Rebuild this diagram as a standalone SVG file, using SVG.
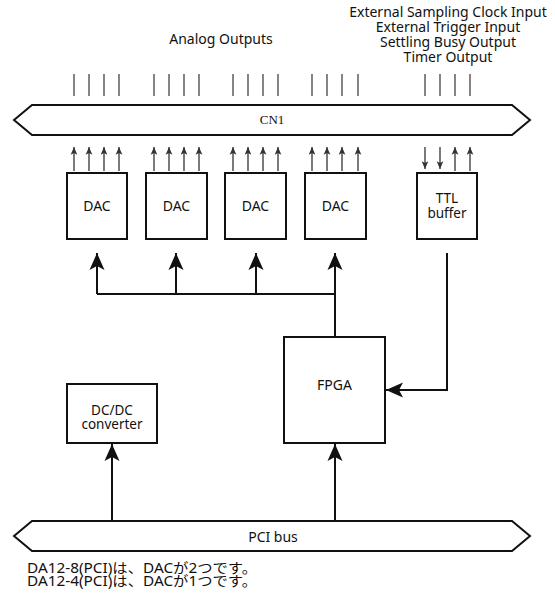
<svg xmlns="http://www.w3.org/2000/svg" width="555" height="594" viewBox="0 0 555 594">
<style>
  text { font-family: "Noto Sans", "Noto Sans CJK JP", sans-serif; font-size: 14px; fill: #111; }
  .c { text-anchor: middle; }
  .two { font-size: 13.5px; }
  .box { fill: #fff; stroke: #111; stroke-width: 2; }
  .bus { fill: #fff; stroke: #111; stroke-width: 2; stroke-linejoin: miter; }
  .tick { stroke: #444; stroke-width: 1.3; fill: none; }
  .sig { stroke: #333; stroke-width: 1.3; fill: none; marker-end: url(#sa); }
  .wire { stroke: #111; stroke-width: 2; fill: none; }
  .arr { stroke: #111; stroke-width: 2; fill: none; marker-end: url(#ba); }
  .serif { font-family: "Liberation Serif", serif; font-size: 13px; }
</style>
<defs>
  <marker id="ba" markerUnits="userSpaceOnUse" orient="auto" markerWidth="20" markerHeight="20" viewBox="-18 -9 20 18" refX="0" refY="0">
    <path d="M0,0 L-17,-7.5 L-13,0 L-17,7.5 Z" fill="#111"/>
  </marker>
  <marker id="sa" markerUnits="userSpaceOnUse" orient="auto" markerWidth="10" markerHeight="10" viewBox="-8 -4 9 8" refX="0" refY="0">
    <path d="M0,0 L-7,-3 L-5.5,0 L-7,3 Z" fill="#333"/>
  </marker>
</defs>

<g id="labels">
  <text class="c" x="221" y="44">Analog Outputs</text>
  <text class="c" x="448" y="17">External Sampling Clock Input</text>
  <text class="c" x="448" y="32">External Trigger Input</text>
  <text class="c" x="448" y="47">Settling Busy Output</text>
  <text class="c" x="448" y="62">Timer Output</text>
  <text class="two" x="27" y="573" textLength="230" lengthAdjust="spacingAndGlyphs">DA12-8(PCI)は、DACが2つです。</text>
  <text class="two" x="27" y="586" textLength="230" lengthAdjust="spacingAndGlyphs">DA12-4(PCI)は、DACが1つです。</text>
</g>

<g id="cn1">
  <polygon class="bus" points="14,120 32,105 512,105 530,120 512,135 32,135"/>
  <text class="c serif" x="272" y="124">CN1</text>
</g>

<g id="dac1">
  <rect class="box" x="67" y="173" width="60" height="66"/>
  <text class="c" x="97" y="211">DAC</text>
</g>
<g id="dac2">
  <rect class="box" x="146" y="173" width="61" height="66"/>
  <text class="c" x="176.5" y="211">DAC</text>
</g>
<g id="dac3">
  <rect class="box" x="225" y="173" width="61" height="66"/>
  <text class="c" x="255.5" y="211">DAC</text>
</g>
<g id="dac4">
  <rect class="box" x="305" y="173" width="61" height="66"/>
  <text class="c" x="335.5" y="211">DAC</text>
</g>
<g id="ttl">
  <rect class="box" x="417" y="173" width="60" height="66"/>
  <text class="c two" x="447" y="203">TTL</text>
  <text class="c two" x="447" y="218">buffer</text>
</g>
<g id="fpga">
  <rect class="box" x="284" y="337" width="101" height="106"/>
  <text class="c" x="334.5" y="390">FPGA</text>
</g>
<g id="dcdc">
  <rect class="box" x="67" y="384" width="90" height="59"/>
  <text class="c two" x="112" y="415">DC/DC</text>
  <text class="c two" x="112" y="429">converter</text>
</g>
<g id="pci">
  <polygon class="bus" points="14,536 32,521 512,521 530,536 512,551 32,551"/>
  <text class="c" x="273" y="542">PCI bus</text>
</g>

<g id="connectors">
  <path class="tick" d="M74,74V96 M89,74V96 M104,74V96 M119,74V96
    M154,74V96 M169,74V96 M184,74V96 M199,74V96
    M233,74V96 M248,74V96 M263,74V96 M278,74V96
    M312,74V96 M327,74V96 M342,74V96 M358,74V96
    M425,74V96 M440,74V96 M455,74V96 M470,74V96"/>
  <path class="sig" d="M74,171V147"/><path class="sig" d="M89,171V147"/><path class="sig" d="M104,171V147"/><path class="sig" d="M119,171V147"/>
  <path class="sig" d="M154,171V147"/><path class="sig" d="M169,171V147"/><path class="sig" d="M184,171V147"/><path class="sig" d="M199,171V147"/>
  <path class="sig" d="M233,171V147"/><path class="sig" d="M248,171V147"/><path class="sig" d="M263,171V147"/><path class="sig" d="M278,171V147"/>
  <path class="sig" d="M312,171V147"/><path class="sig" d="M327,171V147"/><path class="sig" d="M342,171V147"/><path class="sig" d="M358,171V147"/>
  <path class="sig" d="M425,147V169"/><path class="sig" d="M440,147V169"/>
  <path class="sig" d="M455,171V147"/><path class="sig" d="M470,171V147"/>
  <path class="wire" d="M97,294H335"/>
  <path class="arr" d="M97,294V253"/>
  <path class="arr" d="M176,294V253"/>
  <path class="arr" d="M256,294V253"/>
  <path class="arr" d="M335,337V253"/>
  <path class="arr" d="M447,253V390H386"/>
  <path class="arr" d="M112,521V444"/>
  <path class="arr" d="M335,521V444"/>
</g>
</svg>
